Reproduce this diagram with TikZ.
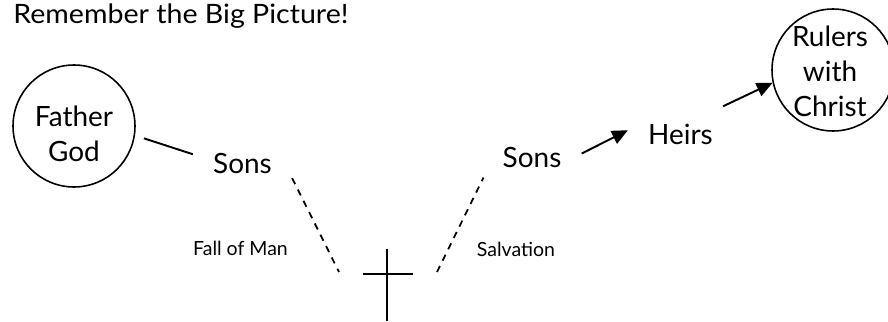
\documentclass[tikz,border=0pt]{standalone}
\usepackage{fontspec}
\setmainfont{Lato}
\newfontfamily\titlefont[FakeStretch=1.07]{Lato}
\usetikzlibrary{arrows.meta}

\begin{document}
\begin{tikzpicture}[x=0.02cm,y=-0.02cm,
        bigcircle/.style={circle,draw,line width=0.9pt,minimum size=2.44cm,inner sep=0pt},
        titleword/.style={font=\titlefont\fontsize{15.2}{18}\selectfont,inner sep=0pt},
        bigword/.style={font=\fontsize{15.9}{19.9}\selectfont,inner xsep=0.4cm,inner ysep=0.2cm},
        smallword/.style={font=\fontsize{11.1}{13}\selectfont,inner sep=0pt},
        link/.style={line width=1.1pt},
        fall/.style={line width=1pt,dash pattern=on 3.8pt off 3.4pt},
        lead/.style={line width=1.1pt,-{Triangle[length=9pt,width=8pt]}}]

    \useasboundingbox (0,0) rectangle (888,321);

    % Title
    \node[titleword,anchor=base west] (title) at (13,23) {Remember the Big Picture!};

    % Left side
    \node[bigcircle,outer sep=0.2cm] (father) at (74,126) {};
    \node[bigword,inner sep=0pt,align=center] (fathername) at (74,134) {Father\\God};
    \node[bigword,anchor=base] (sons1) at (242.5,173) {Sons};
    \node[smallword,anchor=base] (fall) at (240.5,255.5) {Fall of Man};

    % Cross
    \coordinate (cross) at (387,274);
    \coordinate (fallend) at (339,272);
    \coordinate (riseend) at (437,272);
    \draw[link] (cross) ++(0,-25) -- ++(0,72);
    \draw[link] (cross) ++(-24,0) -- ++(50,0);

    % Right side
    \node[bigword,anchor=base] (sons2) at (532,167) {Sons};
    \node[smallword,anchor=base] (salv) at (516,256) {Salvation};
    \node[bigword,inner ysep=0.34cm,anchor=base] (heirs) at (680.5,144) {Heirs};
    \node[bigcircle] (rulers) at (833,70) {};
    \node[bigword,inner sep=0pt,align=center] (rulersname) at (830,71.5) {Rulers\\with\\Christ};

    % Edges
    \draw[link] (father.-10) -- (sons1.170);
    \draw[fall] (sons1.-17) -- (fallend);
    \draw[fall] (riseend) -- (sons2.203);
    \draw[lead] (sons2.4) -- (heirs.176);
    \draw[lead] (heirs.33) -- (rulers.192);
    \end{tikzpicture}
\end{document}
